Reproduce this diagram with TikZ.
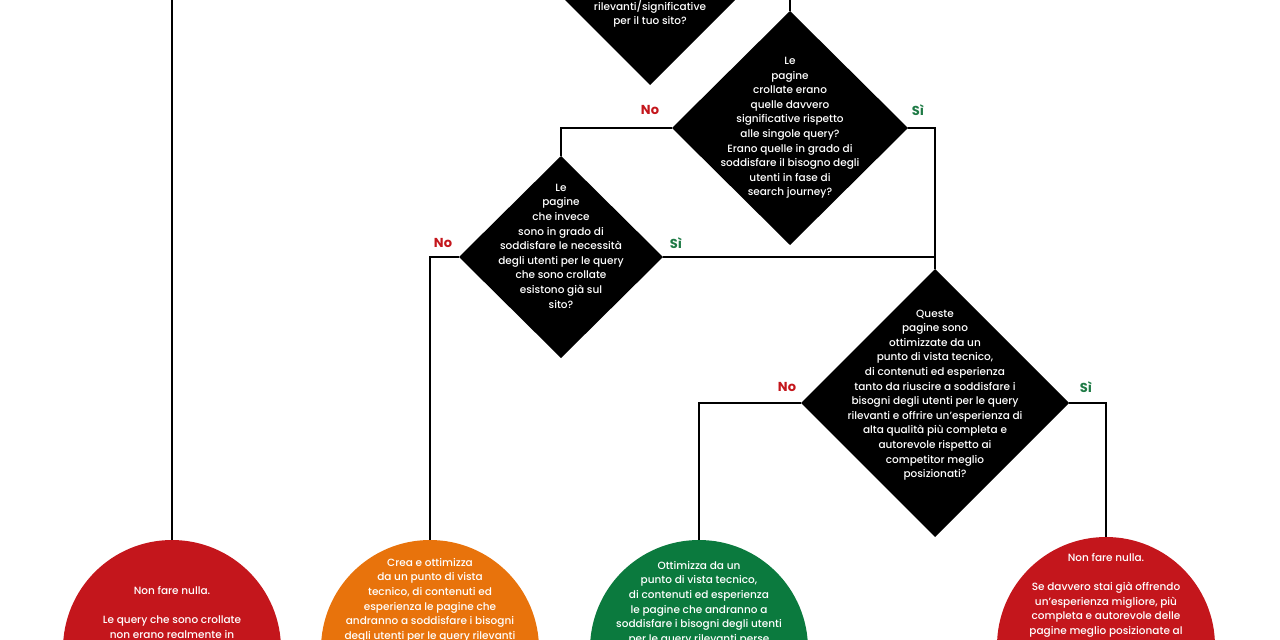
\documentclass[tikz,border=0pt]{standalone}
\usepackage{fontspec}
\setmainfont{Poppins}[UprightFont=* Medium,BoldFont=* Bold]
\usepackage{xcolor}
\usetikzlibrary{positioning,calc}
\definecolor{EsitoRed}{HTML}{C4161C}
\definecolor{EsitoOrange}{HTML}{E8730C}
\definecolor{EsitoGreen}{HTML}{0B7A3E}
\definecolor{RamoNo}{HTML}{C4161C}
\definecolor{RamoSi}{HTML}{1E7A45}
\tikzset{
  domanda/.style={fill=black,draw=none},
  testo/.style={text=white,align=center,inner sep=0pt,font=\fontsize{10.5}{14.6}\selectfont},
  esito/.style={circle,minimum size=218pt,inner sep=0pt},
  txesito/.style={text=white,align=center,anchor=north,inner sep=0pt,font=\fontsize{10.5}{14.6}\selectfont},
  ramo/.style={line width=2.8pt},
  no/.style={text=RamoNo,font=\bfseries\fontsize{13}{15}\selectfont},
  si/.style={text=RamoSi,font=\bfseries\fontsize{13}{15}\selectfont},
}
\begin{document}
\begin{tikzpicture}[x=1pt,y=-1pt]
    \useasboundingbox (0,0) rectangle (1280,640);
    % domande
    \coordinate (d1c) at (650,-25);
    \fill[domanda] (650,-135) -- (760,-25) -- (650,85) -- (540,-25) -- cycle;
    \foreach \n/\cx/\cy/\w/\h in {d2/790/128/118/117,d3/561/257/102/101,d4/935/403/134/134} {
     \coordinate (\n) at (\cx,\cy);
     \coordinate (\n t) at (\cx,\cy-\h);
     \coordinate (\n b) at (\cx,\cy+\h);
     \coordinate (\n l) at (\cx-\w,\cy);
     \coordinate (\n r) at (\cx+\w,\cy);
     \fill[domanda] (\n t) -- (\n r) -- (\n b) -- (\n l) -- cycle;
    }
    \node[testo] (q1) at (650,14) {rilevanti/significative\\per il tuo sito?};
    \node[testo] (q2) at (d2) {Le\\pagine\\crollate erano\\quelle davvero\\significative rispetto\\alle singole query?\\Erano quelle in grado di\\soddisfare il bisogno degli\\utenti in fase di\\search journey?};
    \node[testo] (q3) at ($(d3)+(0,-11)$) {Le\\pagine\\che invece\\sono in grado di\\soddisfare le necessità\\degli utenti per le query\\che sono crollate\\esistono già sul\\sito?};
    \node[testo] (q4) at ($(d4)+(0,-8)$) {Queste\\pagine sono\\ottimizzate da un\\punto di vista tecnico,\\di contenuti ed esperienza\\tanto da riuscire a soddisfare i\\bisogni degli utenti per le query\\rilevanti e offrire un'esperienza di\\alta qualità più completa e\\autorevole rispetto ai\\competitor meglio\\posizionati?};
    % esiti
    \node[esito,fill=EsitoRed] (e1) at (172,649) {};
    \node[esito,fill=EsitoOrange] (e2) at (430,649) {};
    \node[esito,fill=EsitoGreen] (e3) at (699,649) {};
    \node[esito,fill=EsitoRed] (e4) at (1106,646) {};
    \node[txesito] (t1) at (172,586) {Non fare nulla.\\[14.6pt]Le query che sono crollate\\non erano realmente in};
    \node[txesito] (t2) at (430,558) {Crea e ottimizza\\da un punto di vista\\tecnico, di contenuti ed\\esperienza le pagine che\\andranno a soddisfare i bisogni\\degli utenti per le query rilevanti};
    \node[txesito] (t3) at (699,561) {Ottimizza da un\\punto di vista tecnico,\\di contenuti ed esperienza\\le pagine che andranno a\\soddisfare i bisogni degli utenti\\per le query rilevanti perse};
    \node[txesito] (t4) at (1106,553) {Non fare nulla.\\[14.6pt]Se davvero stai già offrendo\\un'esperienza migliore, più\\completa e autorevole delle\\pagine meglio posizionate al};
    % rami
    \coordinate (top1) at (172,0);
    \coordinate (top2) at (790,0);
    \draw[ramo] (top1) -- (e1.north);
    \draw[ramo] (top2) -- (d2t);
    \draw[ramo] (d2l) -| (d3t);
    \draw[ramo] (d2r) -| (d4t);
    \draw[ramo] (d3l) -| (e2.north);
    \draw[ramo] (d3r) -- (d3r -| d4t);
    \draw[ramo] (d4l) -| (e3.north);
    \draw[ramo] (d4r) -| (e4.north);
    % etichette
    \node[no] (n2) at (650,110) {No};
    \node[si] (s2) at (918,110) {Sì};
    \node[no] (n3) at (443,243) {No};
    \node[si] (s3) at (676,243) {Sì};
    \node[no] (n4) at (787,387) {No};
    \node[si] (s4) at (1086,387) {Sì};
\end{tikzpicture}
\end{document}
